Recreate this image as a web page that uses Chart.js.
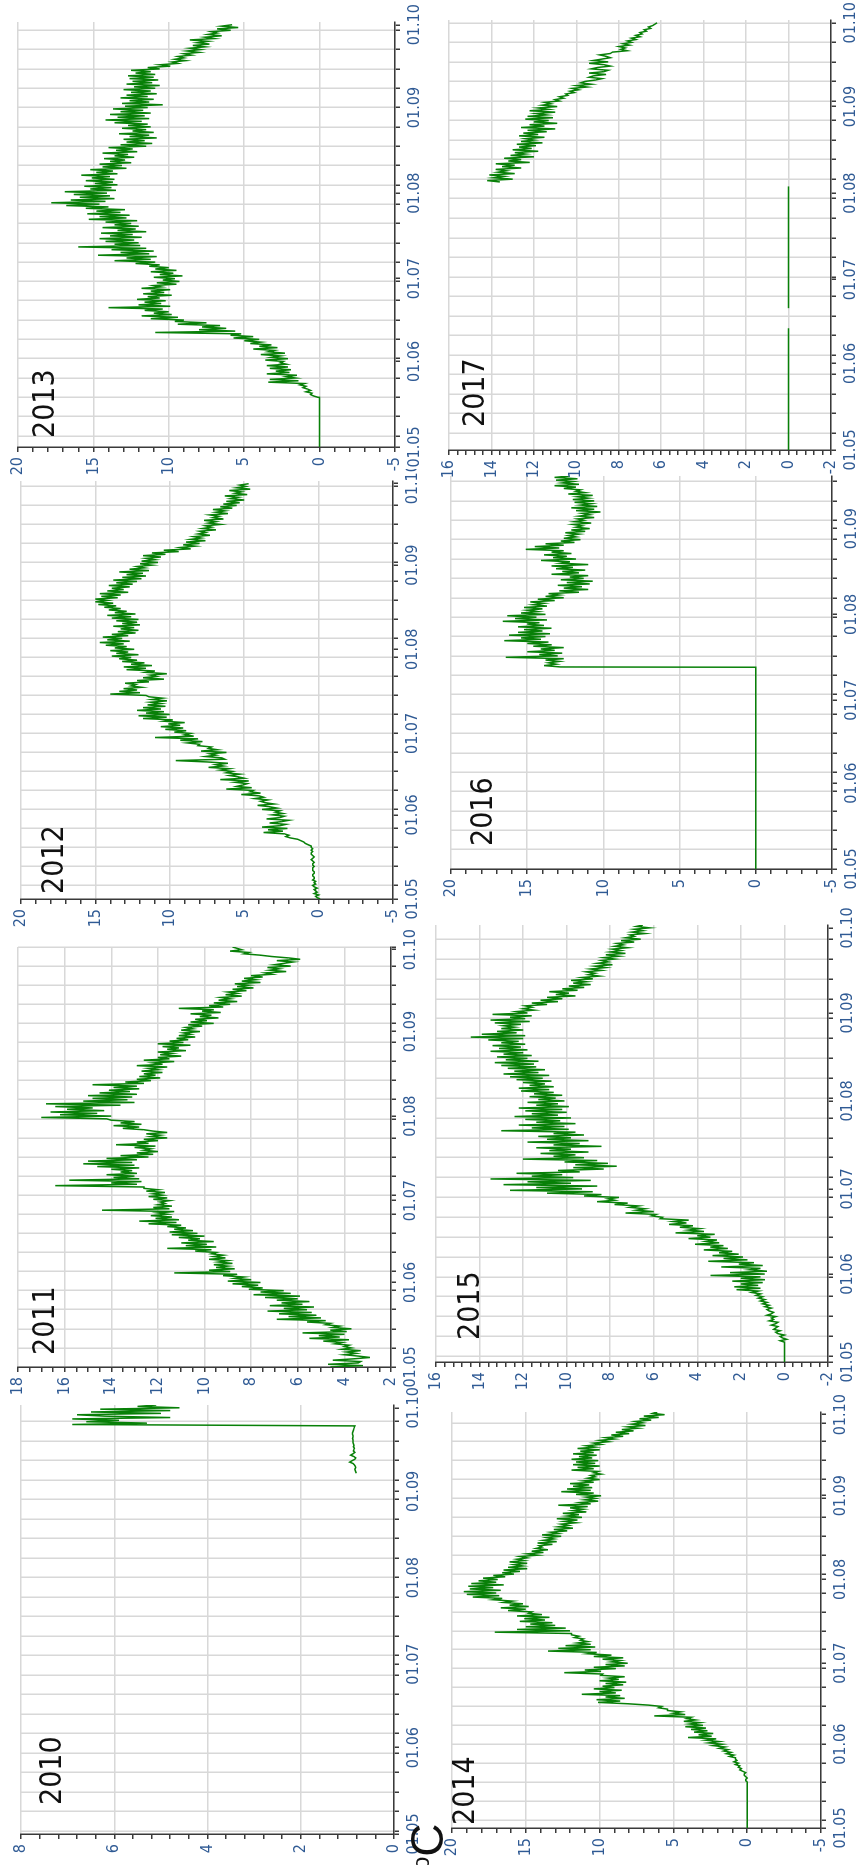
<!DOCTYPE html>
<html>
<head>
<meta charset="utf-8">
<script src="https://cdn.jsdelivr.net/npm/chart.js@4.4.1/dist/chart.umd.min.js"></script>
<style>
  html, body { margin: 0; padding: 0; background: #fff; width: 856px; height: 1865px; overflow: hidden; }
  /* the figure is laid out landscape and turned a quarter turn to stand upright */
  #fig { position: absolute; left: 0; top: 0; width: 1865px; height: 856px;
         transform-origin: 0 0; transform: translate(0px, 1865px) rotate(-90deg); }
  #fig canvas { position: absolute; }
  .yr { position: absolute; font-size: 30px; line-height: 1; color: #111; white-space: nowrap;
        font-family: 'Liberation Sans Narrow', 'DejaVu Sans Condensed', 'Liberation Sans', sans-serif; }
  .unit { position: absolute; font-size: 46px; line-height: 1; color: #111; white-space: nowrap;
          font-family: 'Liberation Sans', sans-serif; }
  .unit span { font-size: 24px; vertical-align: 14px; }
</style>
</head>
<body>
<div id="fig"></div>
<script>
// ---- data: water temperature, °C, two readings per day from 1 May (day 0) ----
const years = ['2010', '2011', '2012', '2013', '2014', '2015', '2016', '2017'];
const monthLabels = ['01.05', '01.06', '01.07', '01.08', '01.09', '01.10'];
const monthDay = [0, 31, 61, 92, 123, 153];

// value axis ranges
const yMin = [0, 2, -5, -5, -5, -2, -5, -2];
const yMax = [8, 18, 20, 20, 20, 16, 20, 16];
const yStep = [2, 2, 5, 5, 5, 2, 5, 2];
const yMinor = [0.4, 0.5, 1, 1, 1, 0.4, 1, 0.4];
const dayMax = [154, 154, 154, 154, 154, 154, 142, 154];

// periods where the logger held a constant reading: [fromDay, toDay, value]
const hold2010 = [];
const hold2011 = [];
const hold2012 = [];
const hold2013 = [[0, 18, 0]];
const hold2014 = [[0, 17, 0]];
const hold2015 = [[0, 7, 0]];
const hold2016 = [[0, 72.9, 0]];
const hold2017 = [[0, 43.6, 0], [50.8, 94.4, 0]];

// day of the first half-day reading in each series
const firstDay = [129.5, 0, 0, 18, 17, 7, 73, 96];

const t2010 = [0.81,
  0.82,0.83, 0.84,0.82, 0.83,0.85, 0.88,0.95, 0.90,0.84, 0.82,0.86, 0.93,0.88, 0.84,0.87, 0.86,0.85, 0.87,0.86,
  0.87,0.88, 0.88,0.88, 0.89,0.88, 0.88,0.89, 0.89,0.88, 0.87,0.86, 0.85,0.84,
  6.9,5.3, 6.6,5.9, 6.9,4.8, 6.2,6.8, 5.0,6.5, 4.8,6.3, 4.6,5.5, 5.1];

const t2011 = [
  4.6,3.2, 4.7,3.4, 3.3,4.5, 3.6,2.9, 3.4,4.0, 3.5,3.9, 3.3,4.1, 3.7,4.0, 3.8,4.4, 4.1,4.9,
  3.8,5.5, 4.2,5.1, 4.0,5.8, 3.9,4.6, 3.7,4.5, 4.2,4.8, 4.6,5.6, 4.8,6.9, 5.0,6.4, 5.2,6.8,
  5.4,7.3, 5.6,6.6, 5.3,7.2, 5.8,6.7, 5.5,6.9, 6.0,7.4, 5.9,7.9, 6.3,7.6, 6.6,8.1, 7.5,8.4,
  7.7,8.8, 7.6,9.0, 8.0,8.7, 8.3,9.2, 8.6,11.3, 8.9,9.8, 8.7,9.5, 9.0,9.6, 8.8,9.4, 9.0,9.8,
  9.1,9.6, 9.2,9.7, 9.5,10.4, 9.7,11.6, 9.5,10.8, 9.9,11.0, 9.6,10.7, 10.2,11.1, 10.0,11.4, 10.3,11.5,
  10.5,11.3, 10.8,11.6, 11.0,12.4, 11.2,12.8, 11.1,12.1, 11.4,12.3, 11.6,12.0, 11.3,14.4, 11.5,12.2, 11.4,12.0,
  11.7,11.9, 11.5,12.2, 11.6,12.4, 11.8,12.2, 11.7,12.5, 12.0,12.6, 12.6,16.4, 12.9,14.0, 12.7,15.8, 12.8,13.9,
  13.0,14.2, 12.9,13.6, 13.1,14.0, 12.8,14.6, 13.0,15.2, 13.1,15.0, 12.9,14.2, 12.4,13.6, 12.2,12.9, 12.0,12.6,
  12.3,13.0, 12.1,13.8, 12.4,12.9, 12.0,12.6, 11.6,12.3, 11.9,12.5, 11.6,12.2, 12.6,13.5, 12.8,13.9, 12.7,13.6,
  13.0,14.0, 14.2,17.0, 14.0,16.2, 14.6,16.6, 14.3,15.9, 14.8,16.4, 13.6,16.8, 13.0,15.2, 13.3,14.8, 13.1,15.0,
  12.9,14.5, 13.2,14.1, 12.8,13.9, 12.9,14.8, 12.6,13.4, 12.3,12.9, 11.9,12.8, 12.1,12.6, 11.8,12.7, 12.0,12.4,
  11.6,12.9, 11.8,12.2, 11.3,12.6, 11.5,12.0, 11.0,11.9, 11.4,12.0, 10.8,11.6, 11.1,11.8, 10.6,12.0, 10.9,11.5,
  10.7,11.2, 10.4,11.1, 10.6,10.9, 10.2,11.0, 10.5,10.8, 10.1,10.7, 9.6,10.6, 9.9,10.4, 9.4,10.2, 9.7,10.6,
  9.3,10.1, 9.6,11.1, 9.2,9.8, 8.9,9.6, 8.6,9.4, 8.9,9.3, 8.4,9.1, 8.6,9.0, 8.2,8.8, 7.9,8.6,
  8.1,8.7, 7.6,8.4, 7.8,8.3, 7.5,8.0, 7.1,7.4, 6.5,7.2, 6.8,7.3, 6.3,7.0, 6.6,6.2, 6.9,5.9,
  6.4,7.1, 7.6,8.3, 8.1,8.9, 8.4,8.6, 8.8];

const t2012 = [
  -0.1,0.1, 0.2,0.0, 0.3,0.1, 0.2,0.3, 0.1,0.3, 0.4,0.2, 0.3,0.2, 0.4,0.3, 0.3,0.4, 0.4,0.3,
  0.3,0.4, 0.4,0.4, 0.3,0.4, 0.4,0.3, 0.4,0.5, 0.4,0.3, 0.4,0.5, 0.5,0.4, 0.5,0.4, 0.5,0.5,
  0.7,0.9, 1.0,1.2, 1.4,1.9, 2.2,2.0, 2.3,3.7, 2.4,3.4, 2.1,3.8, 2.6,2.2, 3.3,2.5, 2.0,3.5,
  2.6,2.3, 3.1,2.4, 2.9,2.6, 3.8,2.8, 3.3,4.1, 3.0,3.6, 3.9,3.4, 4.3,3.7, 4.0,5.2, 3.9,4.6,
  4.4,6.2, 4.5,5.5, 5.1,4.8, 5.6,4.7, 6.6,5.0, 5.4,6.0, 5.3,6.2, 5.8,6.6, 6.0,7.4, 6.4,6.9,
  6.1,7.5, 9.6,6.3, 6.5,7.6, 6.9,7.3, 6.2,7.9, 6.8,7.4, 7.2,8.1, 8.0,8.8, 7.8,9.3, 8.1,11.0,
  8.4,9.0, 8.6,9.7, 8.9,10.3, 9.1,10.6, 9.3,10.1, 9.0,10.4, 9.8,11.8, 10.2,12.1, 10.0,11.6, 10.4,12.2,
  10.6,11.8, 10.3,11.5, 10.6,11.3, 10.2,11.2, 10.5,11.4, 11.6,14.0, 12.0,13.4, 12.2,13.1, 11.9,12.6, 12.3,13.0,
  11.4,12.2, 10.4,11.8, 10.9,11.3, 10.2,11.6, 11.0,12.9, 11.6,13.1, 11.2,12.6, 11.7,13.2, 12.2,13.4, 12.6,13.9,
  12.1,13.6, 12.8,14.0, 12.4,13.7, 12.9,14.3, 13.1,14.7, 12.7,14.2, 13.2,14.5, 12.8,13.9, 12.3,13.5, 12.1,13.3,
  12.4,13.8, 12.0,13.2, 12.2,13.6, 12.1,13.9, 12.6,14.2, 12.3,13.7, 12.9,14.1, 13.3,14.4, 13.6,14.8, 13.8,15.0,
  14.2,15.0, 13.5,14.6, 13.3,14.7, 12.8,14.2, 13.1,13.9, 12.7,14.1, 12.5,13.6, 12.2,13.8, 11.9,13.2, 11.6,12.9,
  11.8,13.4, 11.4,12.7, 11.7,12.2, 11.2,12.0, 10.8,11.9, 11.0,11.6, 10.6,11.8, 10.3,11.2, 9.4,10.4, 8.6,9.3,
  8.3,9.1, 8.0,8.9, 7.6,8.6, 7.9,8.4, 7.3,8.1, 7.6,8.0, 6.9,7.8, 7.2,7.6, 6.6,7.4, 6.9,7.7,
  6.4,7.1, 6.7,7.3, 6.1,6.9, 6.3,7.1, 5.8,6.6, 5.5,6.4, 5.3,6.2, 5.0,5.9, 5.4,6.3, 4.8,5.6,
  5.2,6.0, 4.6,5.5, 4.9,5.3, 4.7];

const t2013 = [
  0.1,0.4, 0.6,0.5, 0.9,0.6, 0.8,1.1, 0.9,1.3, 1.0,3.4, 1.4,3.3, 1.6,2.2, 1.5,3.5, 2.0,2.9,
  1.9,3.3, 2.1,3.5, 2.2,2.6, 2.4,3.6, 2.1,3.2, 2.6,3.9, 2.3,3.4, 3.0,4.4, 2.8,4.0, 3.2,4.6,
  3.9,5.0, 4.0,5.7, 4.4,5.9, 5.2,10.9, 5.6,8.0, 6.2,7.8, 6.6,9.4, 7.5,9.6, 9.0,11.2, 9.4,11.8,
  9.8,11.0, 10.0,11.6, 10.4,14.0, 9.9,12.0, 10.5,11.6, 10.2,12.1, 10.6,11.4, 9.8,11.7, 10.3,11.2, 9.9,11.8,
  10.5,11.0, 9.5,10.8, 9.3,10.4, 9.6,11.0, 9.1,10.6, 9.7,11.2, 9.5,10.9, 10.0,11.3, 10.6,12.2, 10.9,13.6,
  11.2,12.8, 10.8,14.7, 11.3,13.2, 11.0,13.8, 11.5,16.0, 11.9,13.6, 12.0,14.2, 12.3,14.6, 11.8,13.9, 12.4,14.5,
  11.5,13.4, 12.2,14.4, 12.0,13.6, 12.5,14.2, 12.1,15.3, 12.8,14.6, 12.6,15.4, 13.2,14.8, 12.9,15.5, 14.0,16.8,
  14.6,17.8, 14.2,16.5, 13.6,15.9, 13.9,16.3, 14.1,16.9, 13.5,15.2, 13.8,15.6, 13.4,14.9, 13.7,15.5, 13.6,15.1,
  13.9,15.8, 13.4,14.8, 13.7,15.2, 12.8,14.4, 13.1,14.6, 12.5,13.9, 12.9,14.3, 12.3,13.6, 12.7,14.4, 12.1,13.5,
  12.4,14.0, 11.5,13.2, 11.1,12.8, 11.6,13.0, 10.8,12.6, 11.3,13.3, 11.0,12.4, 11.5,13.1, 11.2,12.7, 11.4,13.6,
  11.8,14.2, 11.3,13.4, 11.6,13.9, 11.2,13.2, 11.7,13.7, 11.4,12.9, 10.4,13.1, 11.3,12.6, 11.0,13.2, 11.4,12.8,
  10.8,12.5, 11.2,13.0, 10.9,12.3, 10.6,12.8, 11.1,12.4, 10.7,12.6, 11.0,12.7, 10.9,12.2, 11.2,12.5, 10.6,11.4,
  9.9,10.6, 9.4,9.8, 8.9,9.6, 9.0,9.4, 8.5,9.0, 8.0,8.8, 7.9,8.6, 7.6,8.4, 7.3,8.1, 7.4,8.6,
  7.0,7.6, 6.5,7.4, 6.8,7.2, 5.9,6.8, 5.4,6.5, 5.8];

const t2014 = [
  0.0,0.1, 0.1,0.0, 0.1,0.2, 0.2,0.1, 0.3,0.5, 0.4,0.6, 0.5,0.8, 0.6,0.9, 0.7,0.8, 0.8,1.2,
  0.9,1.4, 1.1,1.6, 1.3,1.9, 1.5,2.3, 1.7,2.6, 1.9,2.8, 2.1,4.0, 2.4,3.3, 2.3,3.6, 2.7,3.8,
  2.8,4.2, 3.0,3.9, 3.2,4.3, 3.5,4.1, 3.8,6.3, 4.2,5.0, 4.5,5.4, 5.4,6.0, 5.8,6.7, 8.1,10.1,
  8.6,10.2, 8.3,9.6, 8.6,11.2, 8.9,10.0, 8.5,10.4, 9.0,9.8, 8.4,9.6, 8.2,10.0, 8.7,9.4, 8.3,9.9,
  9.8,12.4, 9.9,11.0, 8.9,10.4, 8.3,9.6, 8.1,9.2, 8.6,9.8, 8.4,10.4, 9.2,10.8, 10.2,13.5, 10.6,12.8,
  10.3,12.3, 10.6,11.5, 10.8,11.3, 11.1,11.7, 11.4,11.9, 11.9,17.1, 12.0,15.6, 12.3,15.0, 13.0,14.7, 13.2,15.4,
  13.7,15.1, 13.4,15.6, 13.9,14.8, 14.6,16.2, 15.0,16.7, 14.8,16.1, 15.2,16.5, 15.9,17.2, 16.6,18.6, 16.8,19.0,
  17.0,19.2, 16.7,18.8, 17.2,18.9, 16.5,18.7, 17.0,18.2, 16.9,17.9, 16.4,17.2, 15.8,16.6, 15.4,16.5, 14.9,16.2,
  15.2,15.8, 14.9,16.1, 15.1,15.6, 14.9,15.4, 14.2,14.9, 13.8,14.6, 13.5,14.3, 13.9,14.1, 13.2,14.2, 12.9,13.8,
  13.1,13.6, 12.6,13.9, 12.8,13.3, 12.2,13.1, 11.8,12.8, 12.1,12.6, 11.6,12.4, 11.5,12.9, 11.2,12.2, 11.4,12.5,
  10.9,11.8, 11.1,12.0, 10.8,12.8, 10.6,11.3, 10.1,11.0, 10.3,10.9, 9.9,11.6, 10.4,12.6, 10.6,12.2, 10.5,11.8,
  10.7,12.0, 10.4,11.1, 10.0,10.8, 10.3,10.6, 9.9,10.4, 10.1,11.9, 10.4,11.5, 10.0,11.8, 10.3,11.6, 10.1,11.9,
  10.5,11.4, 10.2,11.8, 10.4,11.3, 10.0,11.5, 10.3,10.9, 9.9,10.4, 9.4,10.0, 9.0,9.6, 8.4,9.2, 8.0,8.9,
  7.7,8.5, 7.4,8.1, 6.9,7.8, 7.1,7.6, 6.5,7.3, 6.0,7.0, 5.6,6.4, 6.1];

const t2015 = [
  0.0,0.2, -0.1,0.1, 0.2,0.0, 0.3,0.4, 0.2,0.5, 0.4,0.3, 0.6,0.4, 0.3,0.7, 0.5,0.6, 0.4,0.8,
  0.6,0.5, 0.7,0.8, 0.6,0.9, 0.7,1.0, 0.8,1.1, 0.9,1.2, 1.0,1.3, 1.1,1.5, 1.2,2.2, 1.1,2.3,
  1.2,2.0, 1.0,2.4, 0.9,2.0, 1.1,3.4, 0.9,2.5, 0.8,1.6, 1.1,2.9, 1.0,2.1, 1.4,3.5, 1.7,2.8,
  1.9,3.3, 2.1,3.0, 2.4,3.7, 2.6,3.4, 2.8,4.1, 3.0,3.6, 3.1,4.4, 3.4,4.0, 3.2,5.0, 3.7,4.4,
  3.9,4.8, 4.2,5.3, 4.5,5.1, 4.4,5.7, 5.6,6.1, 5.9,7.3, 6.0,6.8, 6.4,7.1, 6.7,7.8, 7.2,8.6,
  7.8,8.1, 7.6,9.2, 8.4,10.9, 8.8,12.6, 9.3,11.4, 8.6,12.9, 9.8,11.8, 8.9,13.5, 9.7,11.6, 10.2,12.3,
  9.4,10.4, 8.3,9.7, 7.7,9.6, 8.1,10.1, 8.6,12.0, 9.2,10.6, 9.6,11.2, 9.0,10.8, 9.8,11.4, 8.4,10.6,
  9.4,11.8, 9.0,10.9, 9.8,11.3, 9.2,10.6, 9.6,13.0, 9.9,11.6, 10.1,12.2, 9.6,11.4, 10.3,11.9, 9.8,12.4,
  10.4,11.6, 10.0,11.9, 10.2,12.2, 9.9,11.4, 10.4,11.8, 10.1,11.3, 10.5,11.7, 10.2,11.5, 10.6,12.1, 10.8,12.2,
  10.6,11.7, 11.0,12.0, 10.7,12.3, 11.1,12.6, 10.8,12.9, 11.3,12.4, 11.0,12.7, 11.4,13.0, 11.5,13.3, 11.3,12.8,
  11.8,13.2, 11.6,12.9, 12.0,13.5, 11.8,13.1, 12.1,13.4, 11.9,13.0, 12.2,13.6, 12.0,14.4, 11.9,13.9, 12.3,13.2,
  12.0,13.0, 12.4,12.9, 12.1,13.3, 11.7,13.5, 11.9,12.6, 11.6,13.4, 11.8,12.3, 11.5,12.0, 11.6,11.9, 10.9,11.6,
  10.4,11.2, 10.2,10.9, 9.6,10.5, 9.9,10.8, 9.5,10.2, 9.2,9.9, 8.9,9.7, 9.1,9.8, 8.8,9.3, 8.5,9.0,
  8.7,9.1, 8.4,8.9, 8.2,8.7, 7.9,8.6, 8.1,8.4, 7.8,8.3, 7.6,8.2, 7.3,8.0, 7.5,7.9, 7.2,7.8,
  7.4,7.7, 6.9,7.5, 6.6,7.3, 6.9,7.1, 6.4,7.0, 6.5,6.9, 6.2,6.8, 6.5];

const t2016 = [
  12.8,13.9, 13.1,13.6, 12.9,13.8, 12.6,16.4, 13.0,14.2, 12.7,15.0, 13.2,14.1, 12.6,14.6, 13.4,15.0, 13.6,16.5,
  14.1,15.4, 13.8,16.2, 13.5,15.6, 14.0,15.2, 13.4,15.6, 13.9,15.0, 14.2,16.6, 13.7,15.8, 14.4,16.3, 13.8,15.4,
  14.3,15.0, 14.0,15.2, 13.7,14.6, 13.9,14.8, 13.2,14.3, 12.6,13.8, 12.9,13.6, 11.6,12.9, 11.0,12.6, 11.4,13.0,
  10.9,12.4, 10.7,12.8, 11.3,12.2, 11.0,13.4, 11.6,12.7, 11.2,13.1, 12.0,13.4, 11.0,12.8, 12.2,14.1, 11.8,13.3,
  12.4,13.9, 12.1,13.4, 12.6,15.1, 12.9,14.5, 12.6,13.8, 11.9,12.8, 11.5,12.6, 11.8,12.3, 11.6,12.5, 11.2,12.1,
  10.9,11.8, 11.4,12.0, 10.8,11.9, 11.3,11.7, 10.6,11.6, 10.9,11.4, 10.2,11.8, 10.6,12.1, 10.4,11.5, 10.8,11.9,
  10.6,12.0, 11.0,11.7, 10.7,12.3, 11.2,11.8, 11.5,12.6, 11.8,13.2, 11.6,12.7, 12.0,13.1, 11.7,13.2, 12.2];

const t2017 = [
  13.6,14.2, 13.0,13.9, 13.4,14.1, 12.9,13.7, 13.3,13.8, 12.6,13.5, 12.9,13.8, 12.2,13.2, 12.6,13.4, 12.0,13.1,
  12.4,12.9, 11.8,13.0, 12.1,12.7, 11.9,12.8, 11.6,12.6, 12.0,12.4, 11.5,12.7, 11.8,12.5, 11.4,12.3, 11.0,12.6,
  11.5,12.2, 10.9,12.0, 11.3,12.4, 11.1,12.3, 11.4,11.9, 11.0,12.2, 11.3,11.8, 10.9,11.6, 11.2,11.5, 10.8,11.0,
  10.6,10.8, 10.4,10.5, 10.1,10.3, 9.9,10.2, 9.5,10.0, 9.3,9.8, 9.6,9.1, 8.8,9.4, 9.2,8.6, 9.4,8.7,
  8.5,9.3, 9.0,8.4, 8.7,9.4, 8.5,9.2, 8.8,8.4, 8.6,8.9, 8.4,8.3, 7.6,7.9, 7.7,8.0, 7.5,7.8,
  7.4,7.6, 7.2,7.4, 7.0,7.2, 6.9,7.0, 6.7,6.8, 6.5,6.6, 6.4,6.3, 6.2];

const holds = [hold2010, hold2011, hold2012, hold2013, hold2014, hold2015, hold2016, hold2017];
const temps = [t2010, t2011, t2012, t2013, t2014, t2015, t2016, t2017];

// ---- layout of the eight panels (landscape figure coordinates, px) ----
const plotLeft   = [31, 498, 966, 1418, 37, 503, 996, 1415];
const plotRight  = [460, 918, 1384, 1843, 453, 940, 1389, 1845];
const plotTop    = [21, 18, 21, 18, 452, 436, 451, 449];
const plotBottom = [394, 391, 393, 395, 821, 828, 832, 831];
const padRight   = [24, 24, 12, 24, 24, 24, 24, 24];
const titleAt    = [[60, 40], [510, 33], [971, 42], [1427, 33], [40, 453], [525, 458], [1019, 471], [1438, 463]];
const AXIS_W = 44, AXIS_H = 40, PAD_TOP = 14;

const FONT = "'Liberation Sans Narrow', 'DejaVu Sans Condensed', 'Liberation Sans', sans-serif";
const LABEL = '#2f5a94';
const GRID = '#d8d8d8';
const AXIS = '#3a3a3a';
const LINE = 'rgb(8,128,8)';

Chart.defaults.font.family = FONT;

function buildPoints(hold, first, vals) {
  const pts = [];
  hold.forEach((h, k) => {
    pts.push({ x: h[0], y: h[2] }, { x: h[1], y: h[2] });
    const next = k + 1 < hold.length ? hold[k + 1][0] : first;
    if (next - h[1] > 1) pts.push({ x: (h[1] + next) / 2, y: null });
  });
  vals.forEach((v, i) => pts.push({ x: first + i / 2, y: v }));
  return pts;
}

// weekly grid lines fall on Sundays
function firstSunday(year) {
  const wd = new Date(Date.UTC(year, 4, 1)).getUTCDay();
  return (7 - wd) % 7;
}

const fig = document.getElementById('fig');

years.forEach((yr, i) => {
  const w = Math.round(plotRight[i] - plotLeft[i] + AXIS_W + padRight[i]);
  const h = Math.round(plotBottom[i] - plotTop[i] + PAD_TOP + AXIS_H);
  const cv = document.createElement('canvas');
  cv.width = w; cv.height = h;
  cv.style.width = w + 'px'; cv.style.height = h + 'px';
  cv.style.left = (plotLeft[i] - AXIS_W) + 'px';
  cv.style.top = (plotTop[i] - PAD_TOP) + 'px';
  fig.appendChild(cv);

  const sun = firstSunday(+yr);
  const xMax = dayMax[i];

  new Chart(cv, {
    type: 'line',
    data: {
      datasets: [{
        data: buildPoints(holds[i], firstDay[i], temps[i]),
        borderColor: LINE,
        borderWidth: 1.5,
        pointRadius: 0,
        tension: 0,
        spanGaps: false,
        fill: false
      }]
    },
    options: {
      responsive: false,
      animation: false,
      devicePixelRatio: 1,
      events: [],
      layout: { autoPadding: false, padding: { top: PAD_TOP, right: padRight[i], left: 0, bottom: 0 } },
      plugins: { legend: { display: false }, tooltip: { enabled: false } },
      scales: {
        x: {
          type: 'linear',
          position: 'bottom',
          min: 0,
          max: xMax,
          afterBuildTicks: s => {
            const map = new Map();
            for (let d = sun; d <= xMax; d += 7) map.set(d, { value: d, week: true, month: -1 });
            monthDay.forEach((d, m) => {
              if (d <= xMax) {
                const t = map.get(d) || { value: d, week: false, month: -1 };
                t.month = m;
                map.set(d, t);
              }
            });
            s.ticks = [...map.values()].sort((a, b) => a.value - b.value);
          },
          afterFit: s => { s.height = AXIS_H; s.paddingLeft = 0; s.paddingRight = 0; },
          border: { color: AXIS, width: 1.5 },
          grid: {
            color: c => (c.tick && c.tick.week) ? GRID : 'rgba(0,0,0,0)',
            lineWidth: 1.5,
            tickColor: AXIS,
            tickLength: 5
          },
          ticks: {
            autoSkip: false, maxRotation: 0, minRotation: 0, padding: 5,
            color: LABEL, font: { size: 16 },
            callback: (v, k, ticks) => ticks[k].month >= 0 ? monthLabels[ticks[k].month] : ''
          }
        },
        y: {
          type: 'linear',
          min: yMin[i],
          max: yMax[i],
          afterBuildTicks: s => {
            const out = [];
            const n = Math.round((yMax[i] - yMin[i]) / yMinor[i]);
            for (let k = 0; k <= n; k++) {
              const v = +(yMin[i] + k * yMinor[i]).toFixed(4);
              const r = v / yStep[i];
              out.push({ value: v, main: Math.abs(r - Math.round(r)) < 1e-6 });
            }
            s.ticks = out;
          },
          afterFit: s => { s.width = AXIS_W; s.paddingTop = 0; s.paddingBottom = 0; },
          border: { color: AXIS, width: 1.5 },
          grid: {
            color: c => (c.tick && c.tick.main) ? GRID : 'rgba(0,0,0,0)',
            lineWidth: 1.5,
            tickColor: AXIS,
            tickLength: 5
          },
          ticks: {
            autoSkip: false, padding: 5,
            color: LABEL, font: { size: 16 },
            callback: (v, k, ticks) => ticks[k].main ? String(v) : ''
          }
        }
      }
    }
  });

  const t = document.createElement('div');
  t.className = 'yr';
  t.textContent = yr;
  t.style.left = titleAt[i][0] + 'px';
  t.style.top = (titleAt[i][1] - 4) + 'px';
  fig.appendChild(t);
});

// unit of the value axes
const u = document.createElement('div');
u.className = 'unit';
u.innerHTML = '<span>o</span>C';
u.style.left = '-5px';
u.style.top = '404px';
fig.appendChild(u);
</script>
</body>
</html>
